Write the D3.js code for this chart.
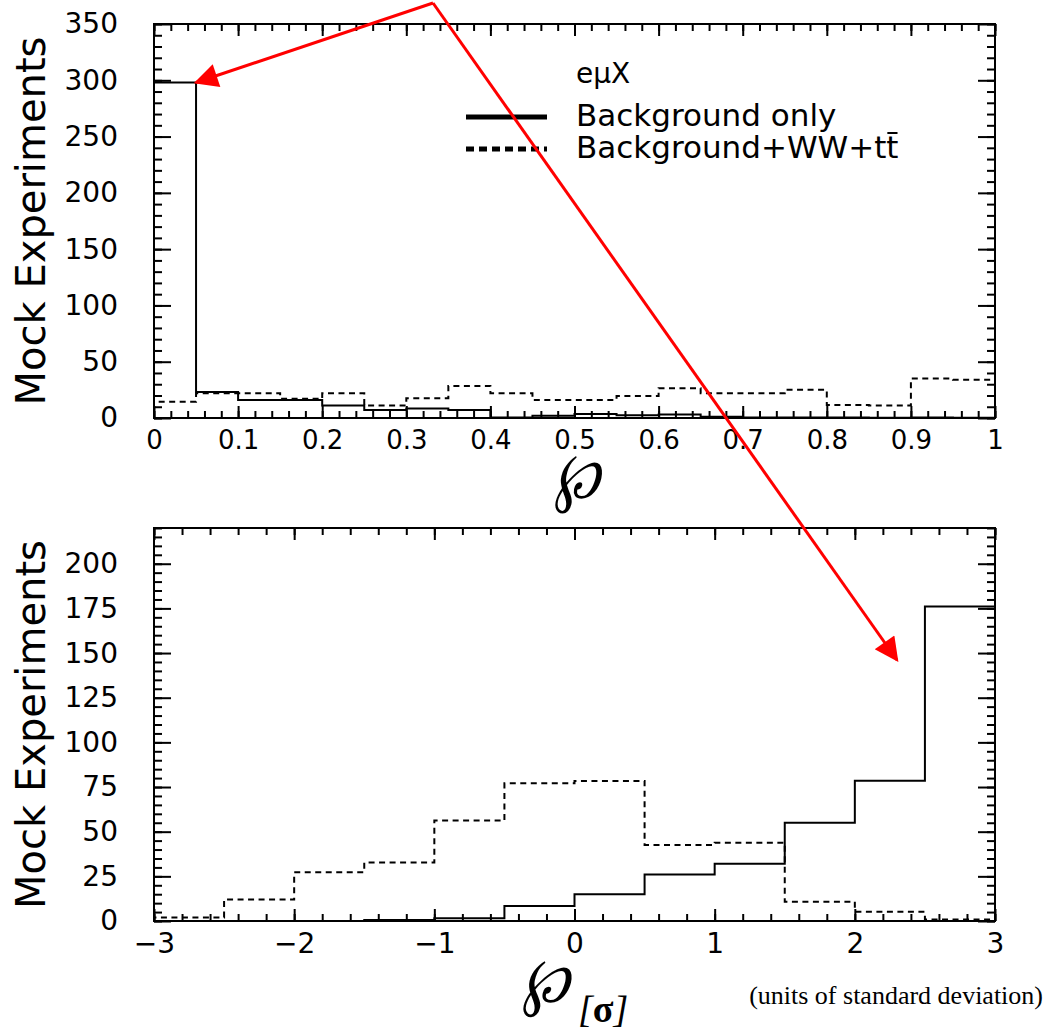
<!DOCTYPE html>
<html>
<head>
<meta charset="utf-8">
<script src="https://cdn.jsdelivr.net/npm/d3@7"></script>
<style>
  body { margin: 0; background: #fff; }
  svg text { font-family: "DejaVu Sans", sans-serif; fill: #000; }
</style>
</head>
<body>
<svg id="chart" width="1045" height="1032"></svg>
<script>

// ---- data: top panel (p-value, bins of 0.05) ----
let pEdges = [0, 0.05, 0.1, 0.15, 0.2, 0.25, 0.3, 0.35, 0.4, 0.45, 0.5,
              0.55, 0.6, 0.65, 0.7, 0.75, 0.8, 0.85, 0.9, 0.95, 1];
let pBkgOnly = [298, 23, 16, 16, 11, 7, 8.5, 7, 0.5, 2, 3.5, 2.5, 3, 1, 0.5, 0.5, 0.5, 0.3, 0.5, 0.3];
let pBkgSig  = [14.5, 22, 22, 17, 22, 11, 17.5, 28.5, 22, 16, 16, 19.5, 26.5, 22, 22, 25, 11.5, 11, 35, 34];
let pXTicks = [0, 0.1, 0.2, 0.3, 0.4, 0.5, 0.6, 0.7, 0.8, 0.9, 1];
let pYTicks = [0, 50, 100, 150, 200, 250, 300, 350];

// ---- data: bottom panel (p in units of sigma, bins of 0.5) ----
let sEdges = [-3, -2.5, -2, -1.5, -1, -0.5, 0, 0.5, 1, 1.5, 2, 2.5, 3];
let sBkgOnly = [0, 0, 0, 0.5, 1.5, 8.4, 15, 26, 32, 55, 78.5, 176];
let sBkgSig  = [2, 12, 27.3, 32.7, 56.2, 77.1, 78.4, 42.6, 43.8, 10.8, 5.2, 0.8];
let sXTicks = [-3, -2, -1, 0, 1, 2, 3];
let sYTicks = [0, 25, 50, 75, 100, 125, 150, 175, 200];

// last char of a label gets a bar when bar: true (t-bar)
let legendItems = [
  {label: "Background only", dash: null, bar: false},
  {label: "Background+WW+tt", dash: "8,5", bar: true}
];


let svg = d3.select("#chart");

let left = 154, right = 995;


function drawPanel (cfg) {
  let g = svg.append("g");

  let x = d3.scaleLinear().domain(cfg.xDomain).range([left, right]);
  let y = d3.scaleLinear().domain(cfg.yDomain).range([cfg.bottom, cfg.top]);

  // histograms as steps
  let step = function (vals) {
    let p = d3.path();
    p.moveTo(x(cfg.edges[0]), y(0));
    vals.forEach((v, i) => {
      p.lineTo(x(cfg.edges[i]), y(v));
      p.lineTo(x(cfg.edges[i + 1]), y(v));
    });
    p.lineTo(x(cfg.edges[cfg.edges.length - 1]), y(0));
    return p.toString();
  };

  g.append("path")
    .attr("d", step(cfg.sig))
    .attr("fill", "none")
    .attr("stroke", "#000")
    .attr("stroke-width", 2)
    .attr("stroke-dasharray", "6,4.5");

  g.append("path")
    .attr("d", step(cfg.bkg))
    .attr("fill", "none")
    .attr("stroke", "#000")
    .attr("stroke-width", 2);

  // ticks, ROOT style: inside, on all four sides
  let axes = [
    {ax: d3.axisBottom(x), tr: `translate(0,${cfg.bottom})`, vals: cfg.xTicks, minor: cfg.xMinor, lab: true,  isX: true,  big: 12, small: 7},
    {ax: d3.axisTop(x),    tr: `translate(0,${cfg.top})`,    vals: cfg.xTicks, minor: cfg.xMinor, lab: false, isX: true,  big: 12, small: 7},
    {ax: d3.axisLeft(y),   tr: `translate(${left},0)`,       vals: cfg.yTicks, minor: cfg.yMinor, lab: true,  isX: false, big: 17, small: 8},
    {ax: d3.axisRight(y),  tr: `translate(${right},0)`,      vals: cfg.yTicks, minor: cfg.yMinor, lab: false, isX: false, big: 17, small: 8}
  ];

  for (let a of axes) {
    let major = g.append("g").attr("transform", a.tr)
      .call(a.ax.tickValues(a.vals).tickSize(-a.big)
        .tickPadding(a.isX ? cfg.xPad : cfg.yPad)
        .tickFormat(a.lab ? cfg.fmt : ""));
    major.select(".domain").remove();
    major.selectAll("line").attr("stroke-width", 2);
    major.selectAll("text")
      .style("font-size", a.isX ? cfg.xFont : "28px");

    let minor = g.append("g").attr("transform", a.tr)
      .call(a.ax.tickValues(a.minor).tickSize(-a.small).tickFormat(""));
    minor.select(".domain").remove();
    minor.selectAll("line").attr("stroke-width", 2);
  }

  // frame
  g.append("rect")
    .attr("x", left).attr("y", cfg.top)
    .attr("width", right - left).attr("height", cfg.bottom - cfg.top)
    .attr("fill", "none").attr("stroke", "#000").attr("stroke-width", 2);

  // y title
  g.append("text")
    .attr("transform", `translate(45,${(cfg.top + cfg.bottom) / 2}) rotate(-90)`)
    .attr("text-anchor", "middle")
    .style("font-size", "40px")
    .text("Mock Experiments");

  return {x, y};
}


let fmtNum = d => d3.format("")(+d.toFixed(2)).replace("-", "\u2212");

let topPanel = drawPanel({
  xDomain: [0, 1], yDomain: [0, 350], top: 24, bottom: 418,
  edges: pEdges, bkg: pBkgOnly, sig: pBkgSig,
  xTicks: pXTicks, yTicks: pYTicks,
  xMinor: d3.range(0, 1.001, 0.02), yMinor: d3.range(0, 351, 10),
  fmt: fmtNum, xPad: 13, yPad: 36, xFont: "26px"
});

let botPanel = drawPanel({
  xDomain: [-3, 3], yDomain: [0, 220], top: 528, bottom: 921,
  edges: sEdges, bkg: sBkgOnly, sig: sBkgSig,
  xTicks: sXTicks, yTicks: sYTicks,
  xMinor: d3.range(-3, 3.001, 0.2), yMinor: d3.range(0, 221, 5),
  fmt: fmtNum, xPad: 12, yPad: 36, xFont: "28px"
});


// x titles
svg.append("text")
  .attr("transform", "translate(577,498) scale(0.92,1.08)")
  .attr("text-anchor", "middle")
  .style("font-family", "DejaVu Serif")
  .style("font-style", "italic")
  .style("font-size", "60px")
  .text("\u2118");

svg.append("text")
  .attr("transform", "translate(546,1002) scale(0.95,1.05)")
  .attr("text-anchor", "middle")
  .style("font-family", "DejaVu Serif")
  .style("font-style", "italic")
  .style("font-size", "60px")
  .text("\u2118");

svg.append("text")
  .attr("x", 578).attr("y", 1022)
  .style("font-family", "Liberation Serif")
  .style("font-size", "38px")
  .style("font-style", "italic")
  .html("[<tspan font-weight='bold' font-style='normal'>\u03c3</tspan>]");

svg.append("text")
  .attr("x", 1043).attr("y", 1004)
  .attr("text-anchor", "end")
  .style("font-family", "Liberation Serif")
  .style("font-size", "26px")
  .text("(units of standard deviation)");


// legend
let lg = svg.append("g");
lg.append("text").attr("x", 576).attr("y", 83)
  .style("font-size", "28px").text("e\u03bcX");

legendItems.forEach((d, i) => {
  let yy = 117 + i * 32;
  lg.append("line")
    .attr("x1", 466).attr("x2", 547).attr("y1", yy).attr("y2", yy)
    .attr("stroke", "#000").attr("stroke-width", 5)
    .attr("stroke-dasharray", d.dash);
  let t = lg.append("text").attr("x", 576).attr("y", yy + 9)
    .style("font-size", "31px").text(d.label);
  if (d.bar) {
    let n = d.label.length - 1;
    let bb = t.node().getExtentOfChar(n);
    lg.append("line")
      .attr("x1", bb.x + 1).attr("x2", bb.x + bb.width - 1)
      .attr("y1", yy - 16).attr("y2", yy - 16)
      .attr("stroke", "#000").attr("stroke-width", 2);
  }
});


// red annotation arrows
svg.append("defs").append("marker")
  .attr("id", "head")
  .attr("viewBox", "0 0 10 10")
  .attr("refX", 9).attr("refY", 5)
  .attr("markerWidth", 9).attr("markerHeight", 8)
  .attr("markerUnits", "strokeWidth")
  .attr("orient", "auto")
  .append("path").attr("d", "M0,0 L10,5 L0,10 Z").attr("fill", "#f00");

let arrowFrom = [433, 3];
let arrowTo = [
  [topPanel.x(0.05), topPanel.y(298)],
  [897, 660]
];
for (let t of arrowTo) {
  svg.append("line")
    .attr("x1", arrowFrom[0]).attr("y1", arrowFrom[1])
    .attr("x2", t[0]).attr("y2", t[1])
    .attr("stroke", "#f00").attr("stroke-width", 3)
    .attr("marker-end", "url(#head)");
}

</script>
</body>
</html>
